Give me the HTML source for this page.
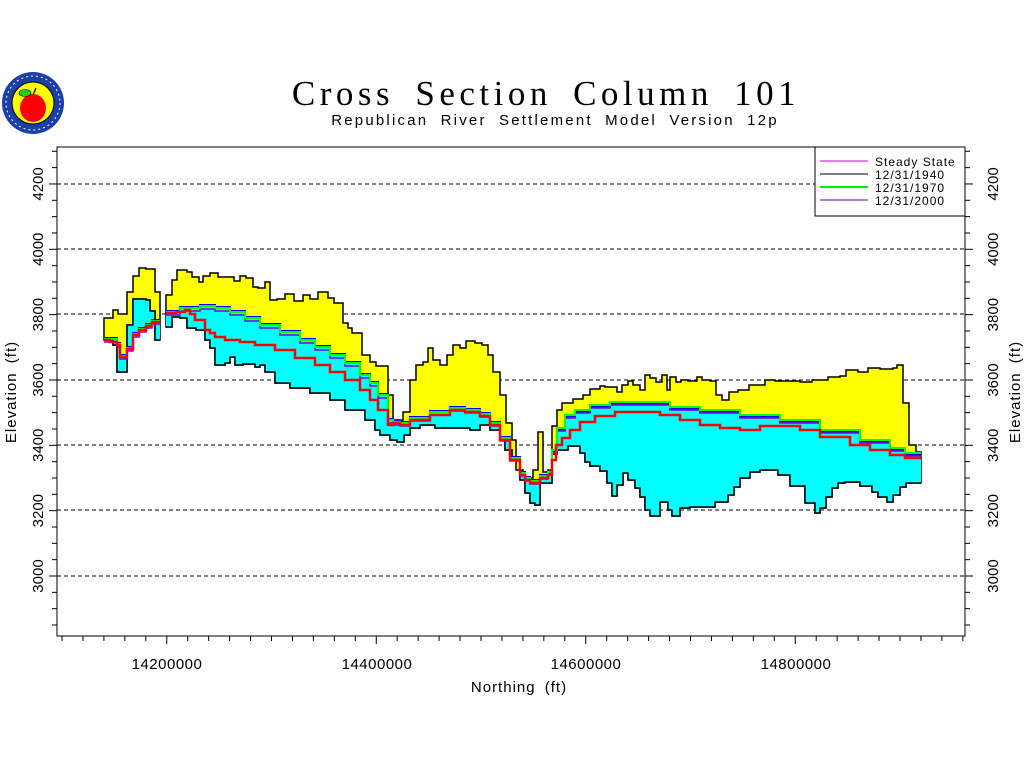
<!DOCTYPE html>
<html><head><meta charset="utf-8"><style>
html,body{margin:0;padding:0;background:#fff;}
svg{display:block;}
text{font-family:"Liberation Sans",sans-serif;}
</style></head><body>
<svg id="s" width="1024" height="768" xmlns="http://www.w3.org/2000/svg">
<rect width="1024" height="768" fill="#fff"/>
<g id="logo">
<circle cx="33" cy="103" r="31" fill="#1a3fa8"/>
<circle cx="33" cy="103" r="27" fill="none" stroke="#fff" stroke-width="1" stroke-dasharray="2 3"/>
<circle cx="33" cy="103" r="21" fill="#ffff00" stroke="#000" stroke-width="1"/>
<ellipse cx="33" cy="108" rx="13" ry="14" fill="#ff0000"/>
<ellipse cx="25" cy="93" rx="6" ry="3.5" fill="#22cc22" stroke="#000" stroke-width="0.6"/>
<line x1="33" y1="95" x2="36" y2="88" stroke="#000" stroke-width="1.2"/>
</g>
<text x="546" y="105" text-anchor="middle" style="font-family:'Liberation Serif',serif;font-size:35px;letter-spacing:4.5px;word-spacing:8px">Cross Section Column 101</text>
<text x="555" y="125" text-anchor="middle" style="font-size:15px;letter-spacing:2.2px;word-spacing:6px">Republican River Settlement Model Version 12p</text>
<g id="grid" stroke="#000" stroke-dasharray="4 3" stroke-width="1"></g>
<g id="data"></g>
<rect x="57" y="147" width="908" height="489" fill="none" stroke="#000" stroke-width="1"/>
<g id="ticks" stroke="#000" stroke-width="1"></g>
<g id="labels" font-size="15"></g>
<text x="519" y="692" text-anchor="middle" font-size="15" style="letter-spacing:1px;word-spacing:4px">Northing (ft)</text>
<text transform="translate(16,392) rotate(-90)" text-anchor="middle" font-size="15" style="letter-spacing:1px;word-spacing:4px">Elevation (ft)</text>
<text transform="translate(1020,392) rotate(-90)" text-anchor="middle" font-size="15" style="letter-spacing:1px;word-spacing:4px">Elevation (ft)</text>
<g id="legend">
<rect x="815" y="147" width="150" height="69" fill="#fff" stroke="#000"/>
<line x1="820" y1="161" x2="868" y2="161" stroke="#cc00cc"/>
<line x1="820" y1="174" x2="868" y2="174" stroke="#000"/>
<line x1="820" y1="187" x2="868" y2="187" stroke="#00ee00" stroke-width="2"/>
<line x1="820" y1="200" x2="868" y2="200" stroke="#5500aa"/>
<text x="875" y="166" font-size="12" style="letter-spacing:1px">Steady State</text>
<text x="875" y="179" font-size="12" style="letter-spacing:1px">12/31/1940</text>
<text x="875" y="192" font-size="12" style="letter-spacing:1px">12/31/1970</text>
<text x="875" y="205" font-size="12" style="letter-spacing:1px">12/31/2000</text>
</g>
</svg>
<script>
var NS="http://www.w3.org/2000/svg";
function el(p,t,a,txt){var e=document.createElementNS(NS,t);for(var k in a)e.setAttribute(k,a[k]);if(txt!==undefined)e.textContent=txt;document.getElementById(p).appendChild(e);return e;}
[184,249,314,380,445,510,576].forEach(function(y){el("grid","line",{x1:57,x2:965,y1:y,y2:y});});
for(var i=0;i<=43;i++){var x=62+i*20.95;if(x>965)break;var maj=(i%10==5);el("ticks","line",{x1:x,x2:x,y1:636,y2:maj?644:641});}
for(var v=2850;v<=4300;v+=50){var y=576-(v-3000)*0.3267;var maj=(v%200==0);el("ticks","line",{x1:57,x2:maj?49:52,y1:y,y2:y});el("ticks","line",{x1:965,x2:maj?973:970,y1:y,y2:y});}
[[167,"14200000"],[377,"14400000"],[586,"14600000"],[796,"14800000"]].forEach(function(a){el("labels","text",{x:a[0],y:669,"text-anchor":"middle",style:"letter-spacing:0.5px"},a[1]);});
[3000,3200,3400,3600,3800,4000,4200].forEach(function(v){var y=576-(v-3000)*0.3267;
el("labels","text",{transform:"translate(43,"+y+") rotate(-90)","text-anchor":"middle"},v);
el("labels","text",{transform:"translate(998,"+y+") rotate(-90)","text-anchor":"middle"},v);});
function step(a,end){var d="";for(var i=0;i<a.length;i++){var x=a[i][0],y=a[i][1];var nx=(i+1<a.length)?a[i+1][0]:end;d+=(i==0?"M":"L")+x+","+y+"L"+nx+","+y;}return d;}
function poly(top,bot,endx){var d=step(top,endx);var b=bot.slice();
var pts=[];for(var i=0;i<b.length;i++){var nx=(i+1<b.length)?b[i+1][0]:endx;pts.push([b[i][0],b[i][1]]);pts.push([nx,b[i][1]]);}
pts.reverse();pts.forEach(function(p){d+="L"+p[0]+","+p[1];});return d+"Z";}
var segs=[
{s:104,e:160,
top:[[104,318],[113,310],[118,314],[127,292],[133,276],[139,268],[146,269],[155,292]],
bot:[[104,340],[113,345],[117,372],[127,325],[133,299],[146,300],[150,311],[155,340]],
red:[[104,340],[110,342],[117,345],[120,357],[127,349],[133,335],[139,330],[146,326],[152,322]],
grn:[[104,339],[117,344],[120,356],[127,348],[133,334],[139,329],[146,325],[152,321]]},
{s:166,e:921,
top:[[166,295],[172,280],[177,270],[187,272],[192,277],[199,282],[203,276],[210,273],[218,277],[226,277],[234,281],[240,276],[246,278],[253,287],[258,288],[265,282],[270,300],[277,299],[285,294],[294,301],[303,295],[310,299],[318,292],[328,298],[334,303],[343,323],[348,328],[352,333],[362,355],[370,362],[376,366],[388,395],[393,420],[403,412],[410,380],[416,365],[423,362],[428,348],[433,360],[440,365],[447,355],[453,345],[460,348],[466,341],[475,343],[482,345],[488,355],[493,372],[500,395],[506,423],[512,440],[516,470],[523,480],[528,478],[533,470],[538,432],[543,472],[548,470],[552,426],[557,410],[562,403],[573,399],[583,395],[590,389],[600,386],[605,387],[617,392],[622,385],[628,381],[633,385],[640,390],[645,375],[650,378],[656,382],[662,375],[667,390],[670,377],[676,382],[681,380],[688,381],[697,377],[702,380],[710,381],[716,395],[722,400],[729,392],[738,390],[749,385],[755,385],[765,380],[775,381],[790,381],[800,382],[812,380],[828,377],[840,376],[846,370],[858,372],[868,368],[880,369],[893,368],[897,365],[903,403],[909,445],[916,452]],
bot:[[166,327],[172,317],[180,318],[187,328],[196,330],[205,340],[210,348],[215,365],[225,363],[230,357],[235,365],[243,364],[255,367],[260,365],[265,372],[275,383],[290,388],[310,393],[330,400],[345,410],[365,420],[375,430],[380,435],[390,440],[397,442],[404,435],[410,428],[420,425],[435,428],[455,428],[470,430],[480,425],[490,430],[500,438],[505,450],[512,460],[520,480],[525,493],[530,503],[535,505],[540,483],[552,454],[557,450],[568,446],[580,453],[585,462],[590,466],[600,471],[607,483],[612,496],[617,485],[623,473],[628,480],[635,488],[640,497],[645,510],[650,516],[660,502],[668,510],[672,516],[680,508],[690,507],[715,502],[728,495],[734,487],[740,478],[750,472],[760,470],[778,475],[790,486],[805,503],[815,513],[820,508],[826,497],[832,488],[838,483],[845,482],[860,486],[872,492],[878,497],[887,502],[893,495],[900,487],[906,483]],
red:[[166,313],[176,312],[185,310],[190,314],[195,320],[205,330],[210,333],[215,337],[225,340],[240,342],[255,345],[275,350],[295,358],[315,365],[330,372],[345,380],[360,390],[370,400],[378,410],[388,425],[393,423],[400,425],[410,420],[430,415],[450,410],[465,412],[480,416],[490,425],[500,440],[510,460],[520,475],[525,480],[530,483],[540,478],[548,475],[552,460],[556,445],[562,438],[570,430],[580,422],[595,416],[615,412],[640,412],[660,415],[680,420],[700,425],[720,428],[740,430],[760,426],[780,426],[800,430],[820,437],[850,445],[870,450],[890,455],[905,458]],
grn:[[166,312],[180,308],[200,306],[215,308],[230,312],[245,318],[260,325],[280,332],[300,340],[315,347],[330,355],[345,363],[360,375],[370,383],[378,395],[388,420],[393,422],[400,423],[410,418],[430,412],[450,408],[465,410],[480,414],[490,423],[500,438],[510,458],[520,473],[525,478],[530,481],[540,476],[548,472],[552,450],[557,428],[565,415],[575,410],[590,405],[610,402],[640,402],[670,407],[700,410],[740,415],[780,420],[820,430],[860,440],[890,448],[905,453]]}
];
segs.forEach(function(g){
el("data","path",{d:poly(g.top,g.bot,g.e),fill:"#ffff00",stroke:"#000","stroke-width":1.5});
el("data","path",{d:poly(g.grn,g.bot,g.e),fill:"#00ffff",stroke:"none"});
el("data","path",{d:step(g.bot,g.e),fill:"none",stroke:"#000","stroke-width":1.5});
var blu=g.grn.map(function(p){return [p[0],p[1]+(p[0]>540?2:-1)];});
el("data","path",{d:step(blu,g.e),fill:"none",stroke:"#0000ff","stroke-width":2});
el("data","path",{d:step(g.grn.map(function(p){return[p[0],p[1]+3];}),g.e),fill:"none",stroke:"#8800cc","stroke-width":1.5});
el("data","path",{d:step(g.grn,g.e),fill:"none",stroke:"#00ff00","stroke-width":2});
el("data","path",{d:step(g.red,g.e),fill:"none",stroke:"#ff0000","stroke-width":2.5});
});
</script>
</body></html>
